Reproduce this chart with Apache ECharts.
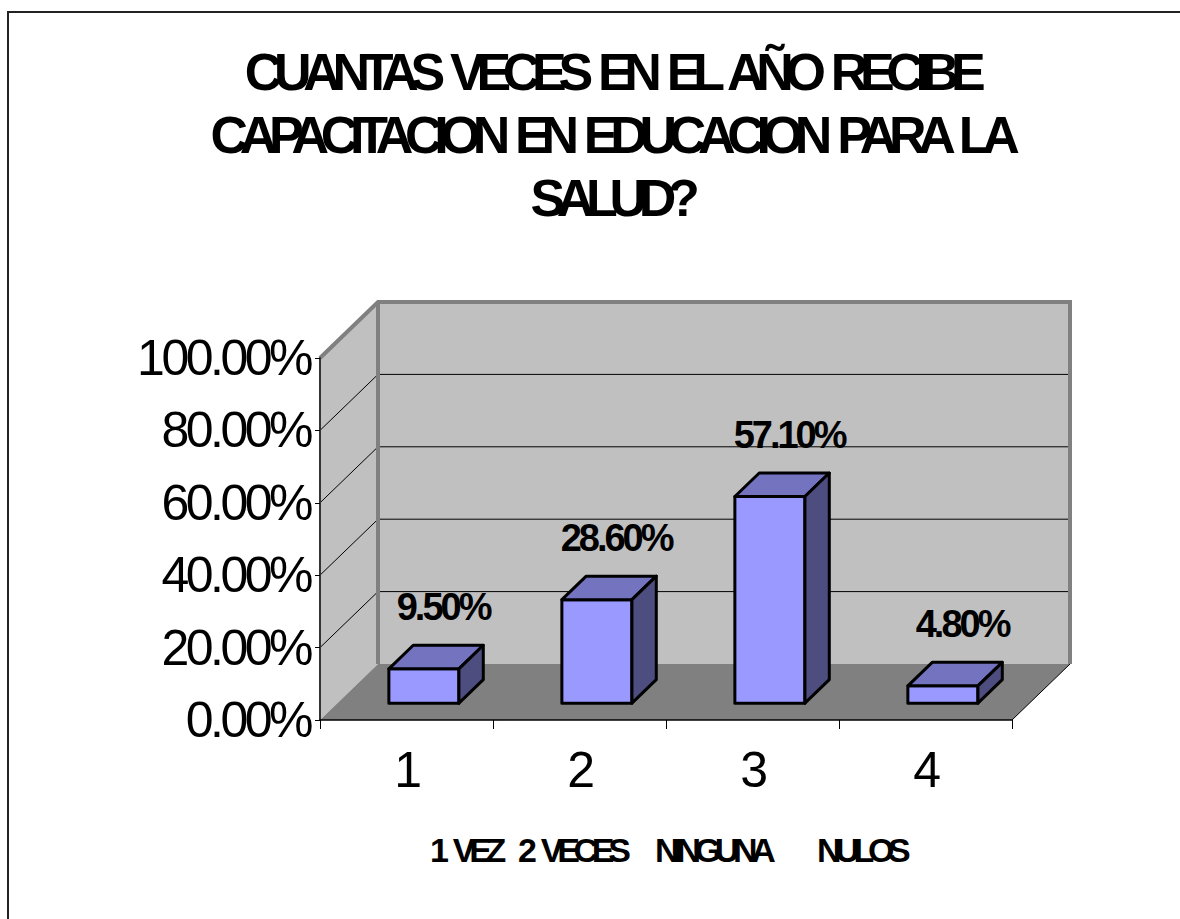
<!DOCTYPE html>
<html>
<head>
<meta charset="utf-8">
<title>Capacitacion en educacion para la salud</title>
<script src="https://cdn.jsdelivr.net/npm/echarts@6/dist/echarts.min.js"></script>
<style>
    html, body { margin: 0; padding: 0; background: #fff; }
    #chart { width: 1180px; height: 919px; }
</style>
</head>
<body>
<div id="chart"></div>
<script>
    // datos
    var categorias = ['1', '2', '3', '4'];
    var porcentajes = [0.095, 0.286, 0.571, 0.048];
    var nombres = ['1 VEZ', '2 VECES', 'NINGUNA', 'NULOS'];
    var yTicks = [0, 0.2, 0.4, 0.6, 0.8, 1];

    // profundidad del efecto 3D (pixeles)
    var DX = 58, DY = -56;
    var T0 = 0.3, TD = 0.42;   // posicion y grosor de las barras en profundidad
    var FONT = '"Liberation Sans", Arial, sans-serif';

    function pct(v) {
        return (v * 100).toFixed(2) + '%';
    }

    // paredes y piso
    function renderWalls(params, api) {
        var cs = params.coordSys;
        var x0 = cs.x, x1 = cs.x + cs.width;
        var y0 = api.coord([0, 0])[1];
        var yTop = api.coord([0, 1])[1];
        return {
            type: 'group',
            children: [
                {type: 'polygon', shape: {points: [[x0 + DX, yTop + DY], [x1 + DX, yTop + DY], [x1 + DX, y0 + DY], [x0 + DX, y0 + DY]]},
                    style: {fill: '#c0c0c0'}},
                {type: 'polygon', shape: {points: [[x0, yTop], [x0 + DX, yTop + DY], [x0 + DX, y0 + DY], [x0, y0]]},
                    style: {fill: '#c0c0c0'}},
                {type: 'polygon', shape: {points: [[x0, y0], [x1, y0], [x1 + DX, y0 + DY], [x0 + DX, y0 + DY]]},
                    style: {fill: '#808080'}},
                {type: 'line', shape: {x1: x1, y1: y0, x2: x1 + DX, y2: y0 + DY},
                    style: {stroke: '#000', lineWidth: 1}}
            ]
        };
    }

    // lineas de division en pared lateral y de fondo
    function renderGrid(params, api) {
        var cs = params.coordSys;
        var x0 = cs.x, x1 = cs.x + cs.width;
        var v = api.value(1);
        var y = api.coord([0, v])[1];
        if (v === 0) return {type: 'group', children: []};
        if (v === 1) {
            return {
                type: 'polyline',
                shape: {points: [[x0, y], [x0 + DX, y + DY], [x1 + DX, y + DY], [x1 + DX, api.coord([0, 0])[1] + DY]]},
                style: {stroke: '#808080', lineWidth: 4, fill: null, lineJoin: 'miter'}
            };
        }
        return {
            type: 'polyline',
            shape: {points: [[x0, y], [x0 + DX, y + DY], [x1 + DX, y + DY]]},
            style: {stroke: '#000', lineWidth: 1, fill: null}
        };
    }

    function renderBackEdge(params, api) {
        var cs = params.coordSys;
        var x0 = cs.x;
        var y0 = api.coord([0, 0])[1];
        var yTop = api.coord([0, 1])[1];
        return {
            type: 'line',
            shape: {x1: x0 + DX, y1: yTop + DY, x2: x0 + DX, y2: y0 + DY},
            style: {stroke: '#808080', lineWidth: 4}
        };
    }

    // barras con caras frontal, superior y lateral
    function renderBar(params, api) {
        var c0 = api.coord([api.value(0), 0]);
        var c1 = api.coord([api.value(0), api.value(1)]);
        var bw = api.size([1, 0])[0] * 0.405;
        var xl = c0[0] + DX * T0 - bw / 2;
        var xr = xl + bw;
        var yt = c1[1] + DY * T0;
        var yb = c0[1] + DY * T0;
        var ddx = DX * TD, ddy = DY * TD;
        var line = {stroke: '#000', lineWidth: 3, lineJoin: 'round'};
        return {
            type: 'group',
            children: [
                {type: 'polygon', shape: {points: [[xl, yt], [xr, yt], [xr, yb], [xl, yb]]},
                    style: Object.assign({fill: '#9999ff'}, line)},
                {type: 'polygon', shape: {points: [[xl, yt], [xr, yt], [xr + ddx, yt + ddy], [xl + ddx, yt + ddy]]},
                    style: Object.assign({fill: '#7373bf'}, line)},
                {type: 'polygon', shape: {points: [[xr, yt], [xr + ddx, yt + ddy], [xr + ddx, yb + ddy], [xr, yb]]},
                    style: Object.assign({fill: '#4d4d80'}, line)},
                {type: 'text', x: (xl + xr + ddx) / 2 + 7, y: yt + ddy / 2 - 50,
                    style: {text: pct(api.value(1)), fill: '#000', font: 'bold 38px ' + FONT,
                        textAlign: 'center', textVerticalAlign: 'middle'}}
            ]
        };
    }

    var chart = echarts.init(document.getElementById('chart'), null, {renderer: 'svg'});

    var leyendaX = [430, 518, 655, 817];

    chart.setOption({
        animation: false,
        backgroundColor: '#fff',
        title: {
            text: 'CUANTAS VECES EN EL AÑO RECIBE\nCAPACITACION EN EDUCACION PARA LA\nSALUD?',
            left: 606,
            top: 35,
            textAlign: 'center',
            textStyle: {fontFamily: FONT, fontSize: 52, fontWeight: 'bold', color: '#000', lineHeight: 63}
        },
        grid: {left: 320, right: 168, top: 358, bottom: 199},
        xAxis: {
            type: 'category',
            data: categorias,
            z: 10,
            axisLine: {lineStyle: {color: '#000', width: 1.5}},
            axisTick: {show: true, length: 9, lineStyle: {color: '#000'}},
            axisLabel: {fontFamily: FONT, fontSize: 50, color: '#000', margin: 25},
            splitLine: {show: false}
        },
        yAxis: {
            type: 'value',
            min: 0,
            max: 1,
            interval: 0.2,
            z: 10,
            axisLine: {show: true, lineStyle: {color: '#333', width: 2}},
            axisTick: {show: true, length: 5, lineStyle: {color: '#000'}},
            axisLabel: {fontFamily: FONT, fontSize: 50, color: '#000', margin: 10, formatter: pct},
            splitLine: {show: false}
        },
        graphic: [
            {type: 'rect', shape: {x: 8, y: 12, width: 1300, height: 1000},
                style: {fill: null, stroke: '#222', lineWidth: 2}, z: 100}
        ].concat(nombres.map(function (n, i) {
            return {type: 'text', x: leyendaX[i], y: 850,
                style: {text: n, font: 'bold 34px ' + FONT, fill: '#000', textAlign: 'left', textVerticalAlign: 'middle'}};
        })),
        series: [
            {type: 'custom', renderItem: renderWalls, data: [[0, 0]], z: 1, silent: true},
            {type: 'custom', renderItem: renderGrid, data: yTicks.map(function (v) { return [0, v]; }), z: 2, silent: true},
            {type: 'custom', renderItem: renderBackEdge, data: [[0, 0]], z: 3, silent: true},
            {type: 'custom', renderItem: renderBar, data: porcentajes.map(function (v, i) { return [i, v]; }), z: 4}
        ]
    });

    // texto comprimido como en el original: [espacio entre letras, entre palabras]
    var espaciado = {52: [-8.3, 7], 50: [-3.5, 0], 38: [-3, 0], 34: [-6.3, 7]};
    function comprimir() {
        var textos = document.querySelectorAll('#chart text');
        textos.forEach(function (t) {
            var fs = Math.round(parseFloat(getComputedStyle(t).fontSize));
            var e = espaciado[fs];
            if (e) {
                t.style.letterSpacing = e[0] + 'px';
                t.style.wordSpacing = e[1] + 'px';
            }
        });
    }
    chart.on('finished', comprimir);
    comprimir();
</script>
</body>
</html>
